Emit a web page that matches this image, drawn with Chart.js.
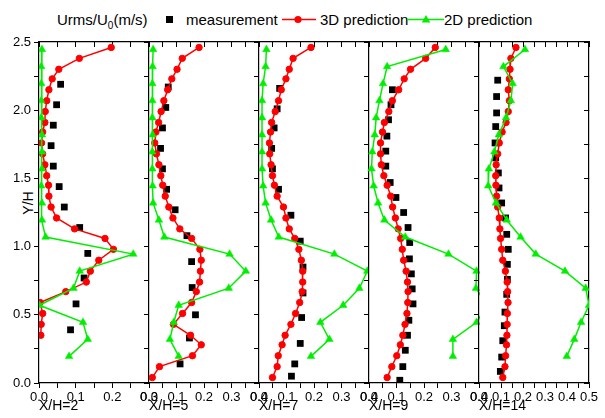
<!DOCTYPE html>
<html>
<head>
<meta charset="utf-8">
<script src="https://cdn.jsdelivr.net/npm/chart.js@4"></script>
<style>
  html, body { margin: 0; padding: 0; background: #fff; }
  #wrap { position: relative; width: 605px; height: 418px; font-family: Arial, "Liberation Sans", sans-serif; color: #000; }
  #wrap canvas { position: absolute; left: 0; top: 0; }
  .lg { position: absolute; top: 12px; font-size: 15px; line-height: 15px; white-space: nowrap; }
  .mk { position: absolute; }
  #ytitle { position: absolute; left: 28px; top: 203px; font-size: 14px; white-space: nowrap;
            transform: translate(-50%, -50%) rotate(-90deg); }
</style>
</head>
<body>
<div id="wrap">
  <div class="lg" style="left:57px">Urms/U<span style="font-size:10px;position:relative;top:4px">0</span>(m/s)</div>
  <div class="mk" style="left:165.5px;top:16px;width:7px;height:7px;background:#000"></div>
  <div class="lg" style="left:186px">measurement</div>
  <svg class="mk" style="left:282px;top:12px" width="34" height="15">
    <line x1="0" y1="7.5" x2="34" y2="7.5" stroke="#ff0000" stroke-width="1.5"/>
    <circle cx="16" cy="7.5" r="3.6" fill="#ff0000"/>
  </svg>
  <div class="lg" style="left:320px">3D prediction</div>
  <svg class="mk" style="left:407px;top:12px" width="37" height="15">
    <line x1="0" y1="7.5" x2="37" y2="7.5" stroke="#00ee00" stroke-width="1.5"/>
    <polygon points="19,3 23.2,10.5 14.8,10.5" fill="#00ee00"/>
  </svg>
  <div class="lg" style="left:444px">2D prediction</div>
  <div id="ytitle">Y/H</div>
</div>
<script>
// heights of the 3D grid points and the 2D grid points (Y/H)
const y3D = [2.46, 2.38, 2.30, 2.23, 2.15, 2.07, 1.99, 1.91, 1.84, 1.76, 1.68, 1.60, 1.52, 1.45, 1.37, 1.29,
             1.21, 1.13, 1.06, 0.98, 0.90, 0.82, 0.74, 0.67, 0.59, 0.51, 0.43, 0.35, 0.28, 0.20, 0.12, 0.04];
const y2D = [2.445, 2.32, 2.195, 2.07, 1.945, 1.82, 1.695, 1.57, 1.445, 1.32, 1.195, 1.07, 0.945,
             0.82, 0.695, 0.57, 0.445, 0.32, 0.195];

const panelNames = ["X/H=2", "X/H=5", "X/H=7", "X/H=9", "X/H=14"];
const panelMaxX = [0.3, 0.4, 0.4, 0.4, 0.5];

// X/H=2
const measX2 = [0.059, 0.048, 0.039, 0.033, 0.039, 0.055, 0.069, 0.111, 0.133, 0.123, 0.101, 0.086];
const measY2 = [2.19, 2.04, 1.89, 1.74, 1.59, 1.44, 1.29, 1.14, 0.95, 0.77, 0.58, 0.39];
const pred3D2 = [0.197, 0.110, 0.054, 0.036, 0.027, 0.021, 0.017, 0.016, 0.010, 0.007, 0.010, 0.016, 0.021, 0.026,
                 0.027, 0.033, 0.048, 0.097, 0.180, 0.203, 0.163, 0.140, 0.129, 0.073, 0.003, 0.010, 0.006, 0.005];
const pred2D2 = [0.008, 0.006, 0.006, 0.006, 0.006, 0.008, 0.008, 0.008, 0.006, 0.008, 0.008, 0.018, 0.257,
                 0.111, 0.094, 0.001, 0.120, 0.133, 0.082];

// X/H=5
const measX5 = [0.070, 0.061, 0.049, 0.042, 0.049, 0.064, 0.095, 0.138, 0.155, 0.157, 0.169, 0.147, 0.113];
const measY5 = [2.17, 2.02, 1.87, 1.72, 1.57, 1.42, 1.27, 1.08, 0.89, 0.70, 0.50, 0.33, 0.14];
const pred3D5 = [0.182, 0.121, 0.102, 0.083, 0.068, 0.054, 0.044, 0.035, 0.025, 0.021, 0.027, 0.036, 0.043, 0.050,
                 0.059, 0.072, 0.087, 0.112, 0.155, 0.185, 0.190, 0.187, 0.184, 0.172, 0.155, 0.122, 0.089, 0.151,
                 0.190, 0.158, 0.038, 0.012];
const pred2D5 = [0.015, 0.013, 0.012, 0.012, 0.012, 0.013, 0.012, 0.012, 0.013, 0.015, 0.036, 0.056, 0.293,
                 0.352, 0.290, 0.108, 0.090, 0.076, 0.108];

// X/H=7
const measX7 = [0.075, 0.066, 0.055, 0.046, 0.049, 0.071, 0.116, 0.150, 0.160, 0.160, 0.155, 0.150, 0.130, 0.118];
const measY7 = [2.16, 2.01, 1.87, 1.72, 1.57, 1.42, 1.23, 1.04, 0.85, 0.66, 0.48, 0.29, 0.14, 0.05];
const pred3D7 = [0.189, 0.124, 0.110, 0.098, 0.081, 0.071, 0.059, 0.046, 0.042, 0.038, 0.039, 0.044, 0.049, 0.056,
                 0.066, 0.089, 0.098, 0.110, 0.130, 0.145, 0.154, 0.159, 0.159, 0.157, 0.148, 0.133, 0.116, 0.095,
                 0.084, 0.070, 0.066, 0.049];
const pred2D7 = [0.027, 0.024, 0.015, 0.011, 0.011, 0.011, 0.011, 0.011, 0.015, 0.024, 0.044, 0.072, 0.274,
                 0.394, 0.365, 0.306, 0.223, 0.256, 0.189];

// X/H=9
const measX9 = [0.085, 0.080, 0.071, 0.065, 0.061, 0.061, 0.077, 0.098, 0.126, 0.142, 0.148, 0.147, 0.154, 0.157,
                0.160, 0.145, 0.140, 0.132, 0.123, 0.112];
const measY9 = [2.15, 2.04, 1.93, 1.81, 1.70, 1.59, 1.47, 1.36, 1.25, 1.14, 1.03, 0.91, 0.80, 0.69, 0.58, 0.46,
                0.35, 0.24, 0.12, 0.02];
const pred3D9 = [0.241, 0.206, 0.151, 0.128, 0.108, 0.085, 0.072, 0.056, 0.049, 0.042, 0.042, 0.045, 0.054, 0.066,
                 0.079, 0.086, 0.096, 0.106, 0.115, 0.121, 0.126, 0.135, 0.140, 0.142, 0.141, 0.138, 0.131, 0.123,
                 0.114, 0.101, 0.083, 0.066];
const pred2D9 = [0.279, 0.066, 0.051, 0.038, 0.026, 0.021, 0.012, 0.009, 0.017, 0.033, 0.056, 0.132, 0.289,
                 0.391, 0.389, 0.43, 0.391, 0.305, 0.305];

// X/H=14
const measX14 = [0.085, 0.080, 0.080, 0.076, 0.073, 0.076, 0.088, 0.091, 0.103, 0.121, 0.126, 0.133, 0.129, 0.129,
                 0.126, 0.118, 0.115, 0.108, 0.103, 0.097];
const measY14 = [2.22, 2.10, 1.98, 1.88, 1.76, 1.65, 1.54, 1.43, 1.32, 1.21, 1.09, 0.98, 0.87, 0.76, 0.65, 0.52,
                 0.42, 0.31, 0.19, 0.085];
const pred3D14 = [0.168, 0.145, 0.141, 0.138, 0.133, 0.138, 0.133, 0.123, 0.105, 0.092, 0.085, 0.078, 0.076, 0.077,
                  0.080, 0.085, 0.092, 0.095, 0.098, 0.103, 0.108, 0.120, 0.128, 0.130, 0.132, 0.129, 0.128, 0.127,
                  0.125, 0.121, 0.118, 0.108];
const pred2D14 = [0.209, 0.111, 0.153, 0.145, 0.123, 0.090, 0.070, 0.045, 0.042, 0.077, 0.126, 0.189, 0.258,
                  0.391, 0.485, 0.50, 0.464, 0.433, 0.399];

const panels = [
    [measX2, measY2, pred3D2, pred2D2],
    [measX5, measY5, pred3D5, pred2D5],
    [measX7, measY7, pred3D7, pred2D7],
    [measX9, measY9, pred3D9, pred2D9],
    [measX14, measY14, pred3D14, pred2D14],
];

// layout of the plot boxes (pixels)
const W = 605, H = 418;
const boxLeft = [39, 149, 259, 369, 479];
const boxWidth = 110;
const boxTop = 42, boxBottom = 383;
const RED = "#ff0000", GREEN = "#00ee00";

const pts = (xs, ys) => xs.map((x, k) => ({ x: x, y: ys[k] }));

Chart.defaults.font.family = 'Arial, "Liberation Sans", sans-serif';
Chart.defaults.color = "#000";

panels.forEach(([mx, my, p3, p2], i) => {
    const canvas = document.createElement("canvas");
    canvas.width = W;
    canvas.height = H;
    document.getElementById("wrap").appendChild(canvas);

    const last = i === panels.length - 1;
    const frame = { color: "#000", width: 1.2 };

    const scales = {
        x: {
            type: "linear", position: "bottom", min: 0, max: panelMaxX[i],
            ticks: {
                stepSize: 0.05, autoSkip: false, maxRotation: 0, padding: 2,
                font: { size: 13 },
                callback: (v) => (Math.round(v * 100) % 10 === 0 ? v.toFixed(1) : ""),
            },
            grid: { drawOnChartArea: false, tickLength: 5, color: "#000" },
            border: frame,
            title: { display: true, text: panelNames[i], align: "start", font: { size: 14 },
                     padding: { top: 0, bottom: 3 } },
            afterFit: (s) => { s.height = 35; },
        },
        xTop: {
            type: "linear", position: "top", min: 0, max: panelMaxX[i],
            ticks: { stepSize: 0.05, display: false },
            grid: { drawOnChartArea: false, tickLength: -5, color: "#000" },
            border: frame,
            afterFit: (s) => { s.height = 10; },
        },
        y: {
            type: "linear", position: "left", min: 0, max: 2.5,
            ticks: {
                stepSize: 0.25, autoSkip: false, padding: 3, font: { size: 13 },
                callback: (v) => (i === 0 && Math.round(v * 100) % 50 === 0 ? v.toFixed(1) : ""),
            },
            grid: { drawOnChartArea: false, tickLength: 5, color: "#000" },
            border: frame,
            afterFit: (s) => { s.width = 30; },
        },
    };
    if (last) {
        scales.yRight = {
            type: "linear", position: "right", min: 0, max: 2.5,
            ticks: { stepSize: 0.25, display: false },
            grid: { drawOnChartArea: false, tickLength: -5, color: "#000" },
            border: frame,
            afterFit: (s) => { s.width = 10; },
        };
    }

    new Chart(canvas, {
        type: "scatter",
        data: {
            datasets: [
                {
                    label: "2D prediction",
                    data: pts(p2, y2D),
                    showLine: true,
                    borderColor: GREEN, backgroundColor: GREEN, borderWidth: 1.5,
                    pointStyle: "triangle", pointRadius: 4.4, pointBorderWidth: 0.5,
                    clip: i === 3 ? { left: 8, top: 8, right: 1, bottom: 8 } : undefined,
                },
                {
                    label: "3D prediction",
                    data: pts(p3, y3D.slice(0, p3.length)),
                    showLine: true,
                    borderColor: RED, backgroundColor: RED, borderWidth: 1.5,
                    pointStyle: "circle", pointRadius: 3.2, pointBorderWidth: 1,
                },
                {
                    label: "measurement",
                    data: pts(mx, my),
                    showLine: false,
                    borderColor: "#000", backgroundColor: "#000",
                    pointStyle: "rect", pointRadius: 4.8, pointBorderWidth: 0,
                },
            ],
        },
        options: {
            responsive: false,
            animation: false,
            devicePixelRatio: 1,
            layout: {
                padding: {
                    left: boxLeft[i] - 30,
                    right: W - boxLeft[i] - boxWidth - (last ? 10 : 0),
                    top: boxTop - 10,
                    bottom: H - boxBottom - 35,
                },
            },
            plugins: { legend: { display: false }, tooltip: { enabled: false } },
            scales: scales,
        },
    });
});
</script>
</body>
</html>
